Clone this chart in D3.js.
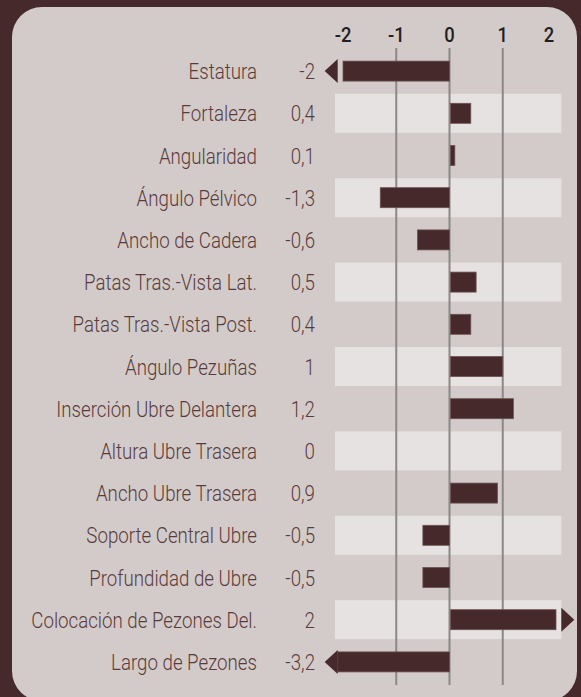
<!DOCTYPE html>
<html>
<head>
<meta charset="utf-8">
<script src="https://cdn.jsdelivr.net/npm/d3@7"></script>
<style>
  html, body { margin: 0; padding: 0; background: #46292a; }
  svg { display: block; }
</style>
</head>
<body>
<div id="vis"></div>
<script>
// ---- data ----
var traits = ["Estatura", "Fortaleza", "Angularidad", "Ángulo Pélvico", "Ancho de Cadera",
  "Patas Tras.-Vista Lat.", "Patas Tras.-Vista Post.", "Ángulo Pezuñas", "Inserción Ubre Delantera",
  "Altura Ubre Trasera", "Ancho Ubre Trasera", "Soporte Central Ubre", "Profundidad de Ubre",
  "Colocación de Pezones Del.", "Largo de Pezones"];
var values = [-2, 0.4, 0.1, -1.3, -0.6, 0.5, 0.4, 1, 1.2, 0, 0.9, -0.5, -0.5, 2, -3.2];
var tickValues = [-2, -1, 0, 1, 2];
var gridValues = [-1, 0, 1];

var W = 581, H = 697;
var fmt = function(v) { return String(v).replace(".", ","); };
var textFont = "Roboto, 'Liberation Sans', sans-serif";
var squeeze = 0.85; // condensed look

var svg = d3.select("#vis").append("svg")
    .attr("width", W)
    .attr("height", H);

// panel
svg.append("rect")
    .attr("x", 12).attr("y", 7)
    .attr("width", 565).attr("height", 694)
    .attr("rx", 30).attr("ry", 30)
    .attr("fill", "#d3cbca");

var x = d3.scaleLinear()
    .domain([-2, 2])
    .range([343, 556]);

var y = d3.scaleBand()
    .domain(traits)
    .range([50, 683])
    .paddingInner(0);

var barH = 20;
var lim = 2.1; // bars beyond +-2 are cut and get an arrow

// alternating bands
svg.selectAll(".band")
    .data(traits.filter(function(d, i) { return i % 2 == 1; }))
    .enter().append("rect")
    .attr("class", "band")
    .attr("x", x(-2.15))
    .attr("width", x(2.1) - x(-2.15))
    .attr("y", function(d) { return y(d) + (y.bandwidth() - 39) / 2; })
    .attr("height", 39)
    .attr("fill", "#e6e2e1");

// grid lines
svg.selectAll(".grid")
    .data(gridValues)
    .enter().append("line")
    .attr("x1", x).attr("x2", x)
    .attr("y1", 48).attr("y2", 685)
    .attr("stroke", "#8a8888")
    .attr("stroke-width", 2);

// tick labels on top
svg.selectAll(".tick")
    .data(tickValues)
    .enter().append("text")
    .attr("transform", function(d) { return "translate(" + (x(d) - (d == 2 ? 7 : 0)) + ",42) scale(0.92,1)"; })
    .attr("text-anchor", "middle")
    .style("font-family", textFont)
    .style("font-weight", 500)
    .style("font-size", "20px")
    .attr("fill", "#231f20")
    .text(function(d) { return d; });

// bars
var rows = traits.map(function(t, i) { return { name: t, v: values[i] }; });
var x0 = x(0);

svg.selectAll(".bar")
    .data(rows.filter(function(d) { return d.v != 0; }))
    .enter().append("rect")
    .attr("class", "bar")
    .attr("x", function(d) {
      var v = Math.max(-lim, Math.min(lim, d.v));
      return v < 0 ? x(v) : x0 + 1;
    })
    .attr("width", function(d) {
      var v = Math.max(-lim, Math.min(lim, d.v));
      return v < 0 ? x0 - x(v) : x(v) - x0 - 1;
    })
    .attr("y", function(d) { return y(d.name) + (y.bandwidth() - barH) / 2; })
    .attr("height", barH)
    .attr("fill", "#46292a")
    .attr("stroke", "#6d5353")
    .attr("stroke-width", 0.8);

// arrow heads for values out of range
svg.selectAll(".arrow")
    .data(rows.filter(function(d) { return Math.abs(d.v) >= 2; }))
    .enter().append("path")
    .attr("d", function(d) {
      var cy = y(d.name) + y.bandwidth() / 2;
      var s = d.v < 0 ? -1 : 1;
      var bx = x(s * lim);
      return "M" + bx + "," + (cy - 12) + "L" + (bx + s * 13) + "," + cy + "L" + bx + "," + (cy + 12) + "Z";
    })
    .attr("fill", "#46292a");

// row labels and values
function rowText(cls, xPos, txt) {
  svg.selectAll("." + cls)
    .data(rows)
    .enter().append("text")
    .attr("class", cls)
    .attr("transform", function(d) {
      return "translate(" + xPos + "," + (y(d.name) + y.bandwidth() / 2 + 8) + ") scale(" + squeeze + ",1)";
    })
    .attr("text-anchor", "end")
    .style("font-family", textFont)
    .style("font-weight", 300)
    .style("font-size", "22px")
    .attr("fill", "#5a3b3b")
    .text(txt);
}
rowText("label", 257, function(d) { return d.name; });
rowText("val", 315, function(d) { return fmt(d.v); });
</script>
</body>
</html>
